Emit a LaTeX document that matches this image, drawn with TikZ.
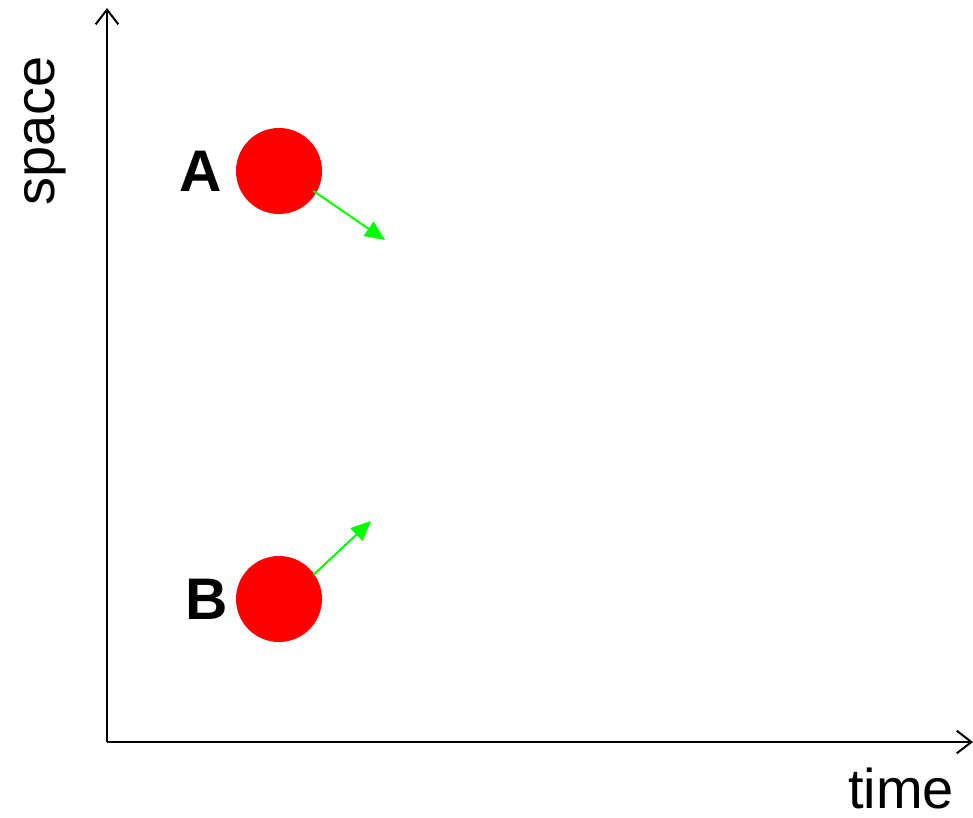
\documentclass[tikz,border=0pt]{standalone}
\usepackage{fontspec}
\setmainfont{Liberation Sans}
\usetikzlibrary{arrows.meta,positioning,calc}

\begin{document}
\begin{tikzpicture}[x=0.75pt,y=-0.75pt,
    ball/.style={circle, fill=red, minimum size=64.5pt, inner sep=0pt},
    balllabel/.style={font=\fontsize{44}{50}\selectfont\bfseries},
    axislabel/.style={font=\fontsize{42}{50}\selectfont, inner sep=0pt},
    velocity/.style={green, line width=1.5pt, -{Triangle[length=15pt,width=13pt]}},
    axis/.style={line width=1.5pt, -{Straight Barb[length=11pt,width=17pt,line width=1.5pt]}}]
    \useasboundingbox (0,0) rectangle (973,817);

    % Axes
    \coordinate (origin) at (107,742);
    \coordinate (ytop) at (107,8);
    \coordinate (xend) at (973,742);
    \draw[axis] (origin) -- (ytop);
    \draw[axis] (origin) -- (xend);
    \node[axislabel, rotate=90] (space) at (45,131) {space};
    \node[axislabel] (time) at (901,788) {time};

    % Particles
    \node[ball] (ballA) at (279,171) {};
    \node[ball] (ballB) at (279,599) {};
    \node[balllabel, left=7pt of ballA] (labelA) {A};
    \node[balllabel, left=2pt of ballB] (labelB) {B};

    % Velocities
    \coordinate (tipA) at (385,240);
    \coordinate (tipB) at (371,521);
    \draw[velocity] ($(ballA.center)!0.92!(ballA.-30)$) -- (tipA);
    \draw[velocity] ($(ballB.center)!0.97!(ballB.35)$) -- (tipB);
\end{tikzpicture}
\end{document}
